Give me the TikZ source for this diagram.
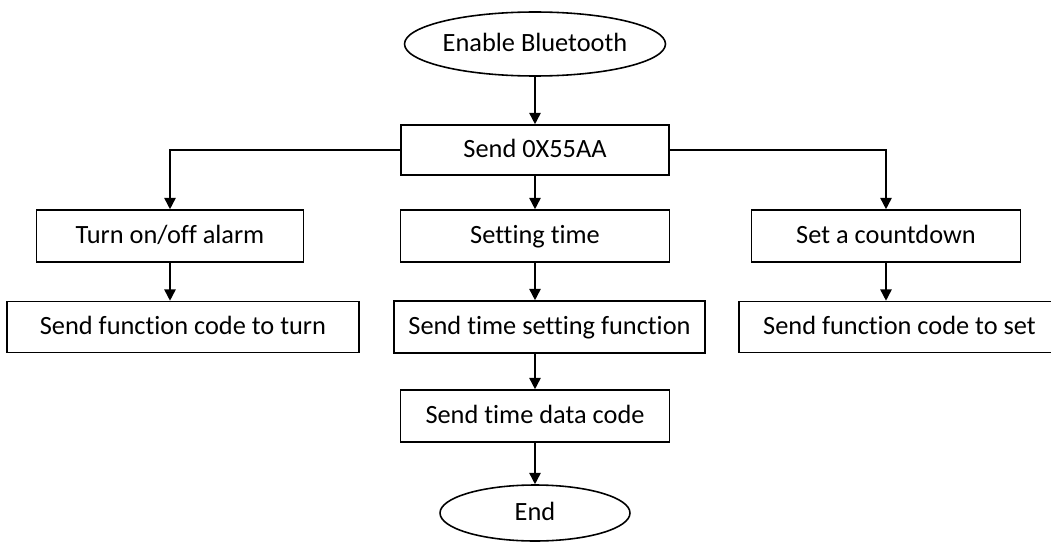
\documentclass[tikz,border=0pt]{standalone}
\usepackage{fontspec}
\setmainfont{Carlito}[Ligatures=NoCommon]
\usetikzlibrary{shapes.geometric,arrows.meta}

\begin{document}
\begin{tikzpicture}[x=0.02cm,y=-0.02cm]
        \tikzstyle{every node}=[font=\fontsize{15}{17}\selectfont,line width=0.9pt,inner sep=0pt,text height=10pt,text depth=2pt]
        \tikzstyle{box}=[draw,rectangle,minimum height=1cm]
        \tikzstyle{oval}=[draw,ellipse]
        \tikzstyle{flow}=[line width=0.9pt,-{Triangle[length=6.5pt,width=6.5pt]}]
        \useasboundingbox (0,0) rectangle (1051,544);

        % start
        \node[oval,minimum width=4.4cm,minimum height=1.28cm] (start) at (535,44) {Enable Bluetooth};
        \node[box,minimum width=5.36cm] (send) at (535,150) {Send 0X55AA};
        \draw[flow] (start) -- (send);

        % alarm branch
        \node[box,minimum width=5.34cm,minimum height=1.04cm] (alarm) at (170,236) {Turn on/off alarm};
        \draw[flow] (send.west |- 0,150) -| (alarm.north);
        \node[box,minimum width=7.04cm,minimum height=1.02cm] (turncode) at (183,327) {Send function code to turn};
        \draw[flow] (alarm.south) -- (alarm.south |- turncode.north);

        % time branch
        \node[box,minimum width=5.38cm,minimum height=1.04cm] (settime) at (535,236) {Setting time};
        \draw[flow] (send.south) -- (settime.north);
        \node[box,minimum width=6.22cm,minimum height=1.04cm] (timefunc) at (549.5,327) {Send time setting function};
        \draw[flow] (settime.south) -- (settime.south |- timefunc.north);
        \node[box,minimum width=5.38cm,minimum height=1.04cm] (datacode) at (535,416) {Send time data code};
        \draw[flow] (settime.south |- timefunc.south) -- (datacode.north);

        % end
        \node[oval,minimum width=3.8cm,minimum height=1.12cm] (finish) at (535,513) {End};
        \draw[flow] (datacode.south) -- (finish.north);

        % countdown branch
        \node[box,minimum width=5.38cm,minimum height=1.04cm] (countdown) at (886,236) {Set a countdown};
        \draw[flow] (send.east) -| (countdown.north);
        \node[box,minimum width=6.42cm,minimum height=1.02cm] (setcode) at (899.5,327) {Send function code to set};
        \draw[flow] (countdown.south) -- (countdown.south |- setcode.north);

    \end{tikzpicture}
\end{document}
